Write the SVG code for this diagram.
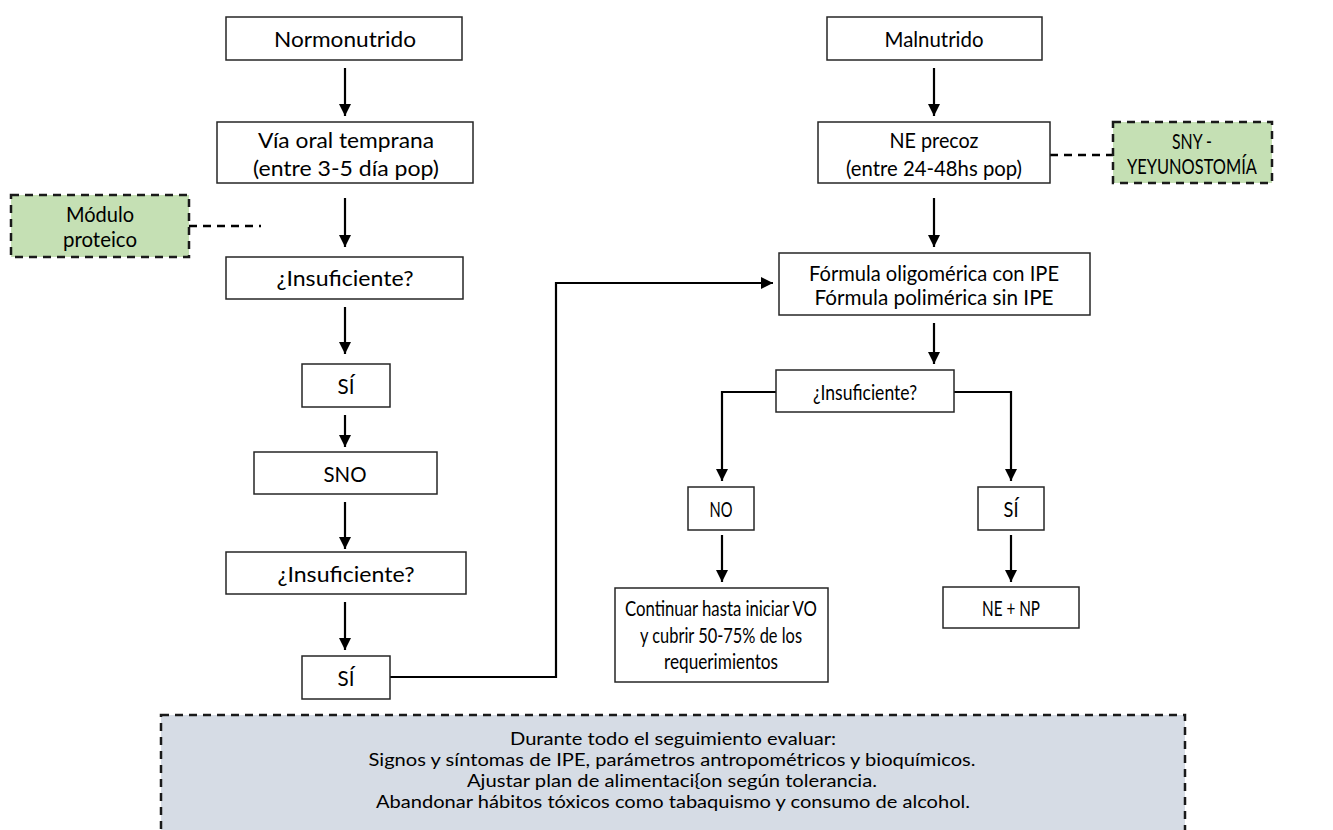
<svg xmlns="http://www.w3.org/2000/svg" width="1333" height="830" viewBox="0 0 1333 830">
<style>
.box{fill:#fff;stroke:#262626;stroke-width:1.5}
.green{fill:#c5e0b4;stroke:#1a1a1a;stroke-width:2.5;stroke-dasharray:8 6}
.note{fill:#d6dce5;stroke:#1a1a1a;stroke-width:2.5;stroke-dasharray:8 6}
.t{font-family:Lato,"Open Sans","Liberation Sans",sans-serif;font-size:22px;fill:#000;text-anchor:middle;dominant-baseline:central}
.g{font-family:Lato,"Open Sans","Liberation Sans",sans-serif;font-size:21px;fill:#000;text-anchor:middle;dominant-baseline:central}
.s{font-family:Lato,"Liberation Sans",sans-serif;font-size:18px;fill:#000;text-anchor:middle;dominant-baseline:central}
.c{fill:none;stroke:#000;stroke-width:2.2}
.d{fill:none;stroke:#000;stroke-width:2.5;stroke-dasharray:8 6}
</style>
<defs>
<marker id="ah" markerUnits="userSpaceOnUse" markerWidth="12" markerHeight="12" viewBox="0 0 12 12" refX="12" refY="6" orient="auto">
<path d="M0,0 L12,6 L0,12 Z" fill="#000"/>
</marker>
</defs>
<rect width="1333" height="830" fill="#fff"/>
<g id="connectors">
<line class="c" x1="345" y1="68" x2="345" y2="116" marker-end="url(#ah)"/>
<line class="c" x1="345" y1="198" x2="345" y2="247" marker-end="url(#ah)"/>
<line class="c" x1="345" y1="307" x2="345" y2="354" marker-end="url(#ah)"/>
<line class="c" x1="345" y1="415" x2="345" y2="447" marker-end="url(#ah)"/>
<line class="c" x1="345" y1="502" x2="345" y2="549" marker-end="url(#ah)"/>
<line class="c" x1="345" y1="602" x2="345" y2="650" marker-end="url(#ah)"/>
<polyline class="c" points="390,677 556,677 556,283 773,283" marker-end="url(#ah)"/>
<line class="c" x1="934" y1="68" x2="934" y2="116" marker-end="url(#ah)"/>
<line class="c" x1="934" y1="198" x2="934" y2="247" marker-end="url(#ah)"/>
<line class="c" x1="934" y1="323" x2="934" y2="364" marker-end="url(#ah)"/>
<polyline class="c" points="776,392 722,392 722,481" marker-end="url(#ah)"/>
<polyline class="c" points="954,392 1011,392 1011,481" marker-end="url(#ah)"/>
<line class="c" x1="722" y1="535" x2="722" y2="582" marker-end="url(#ah)"/>
<line class="c" x1="1011" y1="535" x2="1011" y2="582" marker-end="url(#ah)"/>
<line class="d" x1="189" y1="226" x2="261" y2="226"/>
<line class="d" x1="1050" y1="155" x2="1113" y2="155"/>
</g>
<g id="normonutrido"><rect class="box" x="226" y="17" width="236" height="43"/><text class="t" x="345" y="38" textLength="142" lengthAdjust="spacingAndGlyphs">Normonutrido</text></g>
<g id="via-oral"><rect class="box" x="217" y="122" width="256" height="61"/><text class="t" x="346" y="139" textLength="176" lengthAdjust="spacingAndGlyphs">Vía oral temprana</text><text class="t" x="346" y="167" textLength="186" lengthAdjust="spacingAndGlyphs">(entre 3-5 día pop)</text></g>
<g id="modulo"><rect class="green" x="11" y="195" width="178" height="62"/><text class="g" x="100" y="213" textLength="68" lengthAdjust="spacingAndGlyphs">Módulo</text><text class="g" x="100" y="238" textLength="74" lengthAdjust="spacingAndGlyphs">proteico</text></g>
<g id="insuf1"><rect class="box" x="226" y="257" width="237" height="42"/><text class="t" x="345" y="277" textLength="137" lengthAdjust="spacingAndGlyphs">¿Insuficiente?</text></g>
<g id="si1"><rect class="box" x="302" y="364" width="88" height="43"/><text class="t" x="346" y="385" textLength="17" lengthAdjust="spacingAndGlyphs">SÍ</text></g>
<g id="sno"><rect class="box" x="254" y="452" width="183" height="42"/><text class="t" x="345" y="473" textLength="43" lengthAdjust="spacingAndGlyphs">SNO</text></g>
<g id="insuf2"><rect class="box" x="226" y="552" width="240" height="42"/><text class="t" x="346" y="573" textLength="137" lengthAdjust="spacingAndGlyphs">¿Insuficiente?</text></g>
<g id="si2"><rect class="box" x="302" y="656" width="88" height="43"/><text class="t" x="346" y="677" textLength="17" lengthAdjust="spacingAndGlyphs">SÍ</text></g>
<g id="malnutrido"><rect class="box" x="827" y="17" width="215" height="43"/><text class="t" x="934" y="38" textLength="99" lengthAdjust="spacingAndGlyphs">Malnutrido</text></g>
<g id="ne-precoz"><rect class="box" x="818" y="122" width="232" height="61"/><text class="t" x="934" y="139" textLength="89" lengthAdjust="spacingAndGlyphs">NE precoz</text><text class="t" x="934" y="167" textLength="176" lengthAdjust="spacingAndGlyphs">(entre 24-48hs pop)</text></g>
<g id="sny"><rect class="green" x="1113" y="122" width="159" height="61"/><text class="t" x="1192" y="140" textLength="40" lengthAdjust="spacingAndGlyphs">SNY -</text><text class="t" x="1192" y="165" textLength="130" lengthAdjust="spacingAndGlyphs">YEYUNOSTOMÍA</text></g>
<g id="formula"><rect class="box" x="779" y="253" width="311" height="62"/><text class="g" x="934" y="272" textLength="250" lengthAdjust="spacingAndGlyphs">Fórmula oligomérica con IPE</text><text class="g" x="934" y="296" textLength="239" lengthAdjust="spacingAndGlyphs">Fórmula polimérica sin IPE</text></g>
<g id="insuf3"><rect class="box" x="776" y="370" width="178" height="42"/><text class="t" x="865" y="391" textLength="104" lengthAdjust="spacingAndGlyphs">¿Insuficiente?</text></g>
<g id="no"><rect class="box" x="688" y="487" width="66" height="43"/><text class="t" x="721" y="508" textLength="23" lengthAdjust="spacingAndGlyphs">NO</text></g>
<g id="si3"><rect class="box" x="978" y="487" width="66" height="43"/><text class="t" x="1011" y="508" textLength="15" lengthAdjust="spacingAndGlyphs">SÍ</text></g>
<g id="continuar"><rect class="box" x="615" y="588" width="213" height="94"/><text class="t" x="721" y="607" textLength="192" lengthAdjust="spacingAndGlyphs">Continuar hasta iniciar VO</text><text class="t" x="721" y="634" textLength="162" lengthAdjust="spacingAndGlyphs">y cubrir 50-75% de los</text><text class="t" x="721" y="660" textLength="114" lengthAdjust="spacingAndGlyphs">requerimientos</text></g>
<g id="nenp"><rect class="box" x="943" y="587" width="136" height="41"/><text class="t" x="1011" y="607" textLength="58" lengthAdjust="spacingAndGlyphs">NE + NP</text></g>
<g id="nota"><rect class="note" x="161" y="715" width="1024" height="125"/>
<text class="s" x="673" y="738" textLength="326" lengthAdjust="spacingAndGlyphs">Durante todo el seguimiento evaluar:</text>
<text class="s" x="672" y="759" textLength="607" lengthAdjust="spacingAndGlyphs">Signos y síntomas de IPE, parámetros antropométricos y bioquímicos.</text>
<text class="s" x="672" y="780" textLength="410" lengthAdjust="spacingAndGlyphs">Ajustar plan de alimentaci{on según tolerancia.</text>
<text class="s" x="673" y="801" textLength="594" lengthAdjust="spacingAndGlyphs">Abandonar hábitos tóxicos como tabaquismo y consumo de alcohol.</text>
</g>
</svg>
